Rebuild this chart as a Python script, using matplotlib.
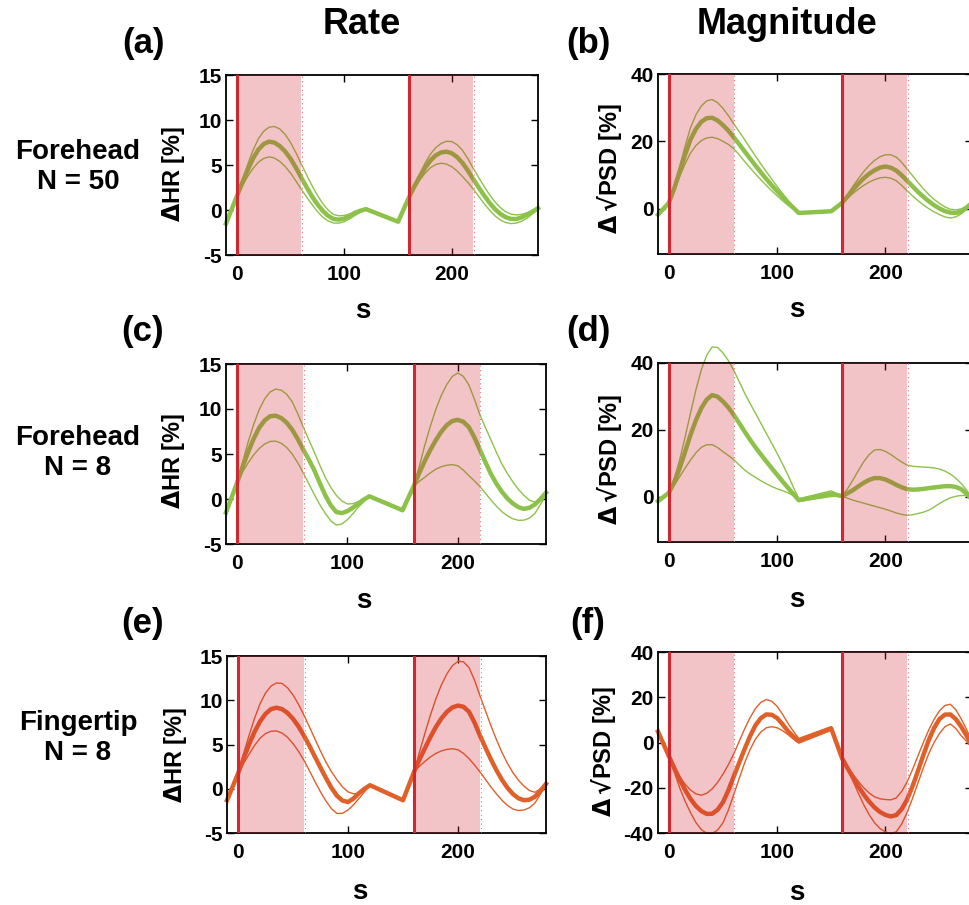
import matplotlib
matplotlib.use('Agg')
import matplotlib.pyplot as plt

plt.rcParams['font.family'] = ['Liberation Sans', 'DejaVu Sans']
plt.rcParams['font.weight'] = 'bold'
plt.rcParams['mathtext.fontset'] = 'dejavusans'
plt.rcParams['axes.unicode_minus'] = False

# time axis (s): block 1 from -10 to 120, block 2 from 150 to 280
t = [-10, -5, 0, 5, 10, 15, 20, 25, 30, 35, 40, 45, 50, 55, 60, 65, 70, 75, 80, 85,
     90, 95, 100, 105, 110, 115, 120,
     150, 155, 160, 165, 170, 175, 180, 185, 190, 195, 200, 205, 210, 215, 220, 225,
     230, 235, 240, 245, 250, 255, 260, 265, 270, 275, 280]

onsets = [0, 160]
stim_len = 60

# (a) forehead N=50, rate
a_mean = [-1.5, 0.0, 1.5, 3.0, 4.4, 5.7, 6.7, 7.33, 7.6, 7.49, 7.1, 6.5, 5.7, 4.69, 3.6,
          2.52, 1.5, 0.63, -0.1, -0.65, -1.0, -1.07, -0.95, -0.65, -0.3, -0.08, 0.1,
          -1.3, 0.05, 1.4, 2.6, 3.7, 4.69, 5.5, 6.07, 6.4, 6.48, 6.3, 5.86, 5.2, 4.34, 3.4,
          2.48, 1.6, 0.79, 0.1, -0.43, -0.8, -0.99, -1.0, -0.81, -0.5, -0.18, 0.2]
a_upper = [-1.5, 0.0, 1.5, 3.3, 5.0, 6.6, 7.9, 8.74, 9.2, 9.28, 9.0, 8.39, 7.5, 6.36, 5.1,
           3.88, 2.7, 1.63, 0.7, -0.02, -0.5, -0.65, -0.6, -0.45, -0.25, -0.08, 0.1,
           -1.3, 0.05, 1.4, 2.76, 4.0, 5.19, 6.2, 6.93, 7.4, 7.64, 7.6, 7.24, 6.6, 5.66, 4.6,
           3.58, 2.6, 1.69, 0.9, 0.27, -0.2, -0.46, -0.55, -0.48, -0.3, -0.05, 0.25]
a_lower = [-1.5, 0.0, 1.5, 2.65, 3.7, 4.6, 5.3, 5.73, 5.9, 5.77, 5.4, 4.83, 4.1, 3.23, 2.3,
           1.43, 0.6, -0.17, -0.8, -1.22, -1.45, -1.46, -1.3, -0.98, -0.6, -0.25, 0.1,
           -1.3, 0.05, 1.4, 2.38, 3.3, 4.09, 4.7, 5.06, 5.2, 5.1, 4.8, 4.31, 3.7, 3.03, 2.3,
           1.5, 0.7, -0.03, -0.65, -1.11, -1.4, -1.51, -1.45, -1.24, -0.9, -0.42, 0.1]

# (b) forehead N=50, magnitude
b_mean = [-1.8, -0.05, 1.7, 6.0, 11.0, 16.0, 20.5, 23.67, 25.8, 26.87, 27.0, 26.2, 24.8,
          23.13, 21.2, 19.14, 17.0, 14.89, 12.8, 10.76, 8.8, 6.96, 5.2, 3.47, 1.8, 0.25, -1.3,
          -0.8, 0.45, 1.7, 3.6, 5.6, 7.39, 9.0, 10.34, 11.4, 12.18, 12.5, 12.16, 11.3, 9.93,
          8.3, 6.64, 5.0, 3.53, 2.2, 1.0, 0.0, -0.76, -1.2, -1.29, -0.9, 0.3, 1.7]
b_upper = [-1.8, -0.05, 1.7, 6.6, 12.5, 18.52, 24.0, 27.85, 30.5, 32.02, 32.4, 31.51, 29.8,
           27.63, 25.2, 22.87, 20.5, 18.04, 15.6, 13.27, 11.0, 8.77, 6.6, 4.51, 2.5, 0.6, -1.3,
           -0.8, 0.45, 1.7, 4.1, 6.6, 8.9, 11.0, 12.82, 14.3, 15.4, 16.0, 15.98, 15.3, 13.76,
           11.8, 9.81, 7.8, 5.92, 4.2, 2.73, 1.5, 0.48, -0.2, -0.37, -0.1, 0.7, 1.7]
b_lower = [-1.8, -0.05, 1.7, 5.38, 9.5, 13.26, 16.5, 18.73, 20.2, 21.01, 21.2, 20.8, 20.0,
           19.06, 17.8, 15.99, 14.0, 12.13, 10.3, 8.56, 6.9, 5.31, 3.8, 2.35, 1.0, -0.15, -1.3,
           -0.8, 0.45, 1.7, 3.1, 4.5, 5.77, 6.9, 7.86, 8.6, 9.12, 9.3, 9.03, 8.3, 6.92,
           5.3, 3.81, 2.4, 1.13, 0.0, -0.99, -1.8, -2.49, -2.8, -2.47, -1.6, 0.0, 1.7]

# (c) forehead N=8, rate
c_mean = [-1.5, 0.15, 1.8, 3.55, 5.2, 6.68, 7.9, 8.73, 9.2, 9.26, 9.0, 8.48, 7.7, 6.66, 5.5,
          4.39, 3.2, 1.77, 0.4, -0.71, -1.45, -1.57, -1.35, -0.97, -0.5, -0.05, 0.3,
          -1.25, 0.08, 1.4, 2.85, 4.2, 5.42, 6.5, 7.46, 8.2, 8.66, 8.8, 8.59, 8.0, 6.87, 5.5,
          4.12, 2.8, 1.71, 0.8, 0.06, -0.5, -0.91, -1.1, -0.97, -0.6, 0.0, 0.7]
c_upper = [-1.5, 0.15, 1.8, 4.1, 6.3, 8.26, 9.9, 11.11, 11.9, 12.21, 12.1, 11.64, 10.8, 9.49,
           8.0, 6.6, 5.2, 3.75, 2.4, 1.28, 0.4, -0.22, -0.55, -0.52, -0.3, 0.0, 0.3,
           -1.25, 0.08, 1.4, 3.55, 5.9, 8.01, 9.9, 11.47, 12.7, 13.61, 14.0, 13.64, 12.7, 11.14,
           9.4, 7.96, 6.6, 5.2, 3.9, 2.83, 1.9, 1.07, 0.4, -0.14, -0.35, 0.05, 0.8]
c_lower = [-1.5, 0.15, 1.8, 3.0, 4.0, 4.89, 5.6, 6.11, 6.4, 6.43, 6.2, 5.72, 5.0, 4.03, 2.9,
           1.7, 0.5, -0.62, -1.6, -2.42, -2.9, -2.77, -2.3, -1.64, -0.9, -0.3, 0.3,
           -1.25, 0.08, 1.4, 1.95, 2.4, 2.88, 3.3, 3.58, 3.75, 3.82, 3.7, 3.22, 2.6, 2.03, 1.4,
           0.66, -0.1, -0.79, -1.4, -1.87, -2.2, -2.37, -2.35, -2.12, -1.6, -0.6, 0.5]

# (d) forehead N=8, magnitude
d_mean = [-1.3, -0.05, 1.2, 4.38, 8.5, 13.46, 18.5, 22.88, 26.5, 29.07, 30.4, 29.94, 28.5,
          26.69, 24.5, 22.04, 19.5, 17.1, 14.8, 12.66, 10.6, 8.58, 6.6, 4.63, 2.7, 0.85, -1.0,
          0.9, 0.55, 0.2, 1.05, 2.0, 3.13, 4.2, 5.06, 5.6, 5.59, 5.2, 4.46, 3.6, 2.86, 2.3,
          2.14, 2.2, 2.37, 2.6, 2.81, 3.0, 3.18, 3.2, 2.96, 2.3, 0.9, -0.8]
d_upper = [-1.3, -0.05, 1.2, 5.38, 11.0, 17.8, 25.0, 31.95, 38.0, 42.33, 44.8, 44.65, 43.0,
           40.71, 37.8, 34.45, 31.0, 27.95, 25.0, 22.0, 19.0, 16.03, 13.0, 9.82, 6.5, 2.9, -0.6,
           1.8, 1.0, 0.2, 2.4, 5.0, 7.83, 10.5, 12.62, 14.0, 14.15, 13.6, 12.65, 11.5, 10.4,
           9.5, 9.14, 9.0, 8.9, 8.8, 8.63, 8.3, 7.69, 6.8, 5.58, 4.0, 2.0, -0.3]
d_lower = [-1.3, -0.05, 1.2, 3.44, 6.0, 8.56, 11.0, 13.16, 14.8, 15.57, 15.6, 14.75, 13.5,
           12.36, 11.1, 9.54, 8.0, 6.83, 5.8, 4.81, 3.9, 3.11, 2.4, 1.87, 1.2, 0.4, -1.4,
           0.1, 0.15, 0.2, -0.4, -1.0, -1.45, -1.9, -2.35, -2.8, -3.25, -3.7, -4.25, -4.8,
           -5.25, -5.5, -5.36, -5.0, -4.59, -4.0, -3.04, -2.0, -1.07, -0.3, 0.17, 0.4, 0.35, 0.2]

# (e) fingertip N=8, rate
e_mean = [-1.3, 0.2, 1.7, 3.4, 5.0, 6.42, 7.6, 8.46, 9.0, 9.16, 9.0, 8.57, 7.9, 7.03, 6.0,
          4.83, 3.6, 2.38, 1.2, 0.09, -0.8, -1.34, -1.5, -1.1, -0.5, 0.0, 0.4,
          -1.3, 0.3, 1.9, 3.3, 4.6, 5.86, 7.0, 7.96, 8.7, 9.2, 9.4, 9.26, 8.7, 7.48, 6.0,
          4.63, 3.3, 2.08, 1.0, 0.1, -0.6, -1.08, -1.3, -1.23, -0.9, -0.25, 0.55]
e_upper = [-1.3, 0.2, 1.7, 3.95, 6.0, 7.94, 9.6, 10.81, 11.6, 11.96, 11.9, 11.41, 10.6, 9.54,
           8.3, 6.97, 5.6, 4.26, 3.0, 1.92, 1.0, 0.21, -0.35, -0.57, -0.5, -0.15, 0.4,
           -1.3, 0.3, 1.9, 4.15, 6.3, 8.35, 10.2, 11.76, 13.0, 13.92, 14.4, 14.34, 13.7, 12.27,
           10.5, 8.79, 7.1, 5.53, 4.1, 2.86, 1.8, 0.95, 0.3, -0.21, -0.4, 0.0, 0.6]
e_lower = [-1.3, 0.2, 1.7, 2.85, 3.9, 4.89, 5.7, 6.23, 6.5, 6.53, 6.3, 5.81, 5.1, 4.23, 3.2,
           2.02, 0.8, -0.36, -1.4, -2.26, -2.8, -2.77, -2.4, -1.82, -1.1, -0.35, 0.4,
           -1.3, 0.3, 1.9, 2.55, 3.1, 3.6, 4.0, 4.28, 4.45, 4.52, 4.4, 3.99, 3.4, 2.69, 1.9,
           1.05, 0.2, -0.59, -1.3, -1.89, -2.3, -2.46, -2.4, -2.14, -1.6, -0.6, 0.5]

# (f) fingertip N=8, magnitude
f_mean = [4.8, -0.6, -6.0, -11.29, -16.3, -20.91, -24.9, -28.06, -30.3, -31.56, -31.5, -29.74,
          -26.4, -21.14, -15.0, -8.89, -2.9, 2.81, 7.6, 10.76, 12.4, 12.26, 10.8, 8.07, 5.0,
          2.7, 0.7,
          6.2, -0.4, -7.0, -11.3, -15.4, -19.37, -23.0, -26.12, -28.7, -30.7, -32.0, -32.68,
          -32.1, -29.49, -25.3, -19.43, -12.7, -5.65, 1.0, 6.43, 10.4, 12.33, 12.4, 10.36,
          7.0, 3.0, -1.5]
f_upper = [4.8, -0.6, -6.0, -10.8, -15.0, -18.42, -21.0, -22.7, -23.3, -22.45, -20.5, -17.64,
           -14.0, -9.78, -5.0, 0.5, 6.0, 10.94, 15.0, 17.75, 19.0, 18.22, 16.0, 12.48, 8.5,
           5.0, 1.8,
           7.0, 0.0, -7.0, -10.6, -14.0, -17.19, -20.0, -22.3, -24.0, -24.89, -25.2, -25.36,
           -24.5, -21.68, -17.5, -12.03, -6.0, -0.06, 5.5, 10.29, 14.0, 16.38, 16.9, 14.51,
           10.5, 5.7, 0.5]
f_lower = [4.8, -0.6, -6.0, -12.99, -20.0, -25.91, -31.0, -35.33, -38.5, -40.11, -40.2, -38.74,
           -35.5, -29.83, -23.0, -15.88, -9.0, -3.19, 1.5, 4.66, 6.5, 7.0, 6.5, 5.24, 3.5,
           1.5, -0.3,
           5.4, -0.8, -7.0, -11.9, -17.0, -22.38, -27.5, -31.91, -35.5, -38.0, -39.5, -40.28,
           -39.5, -36.06, -31.0, -24.78, -18.0, -11.25, -5.0, 0.05, 4.0, 6.99, 8.2, 6.21,
           3.0, 0.5, -2.5]

GREEN = '#8cc24a'
ORANGE = '#e0602a'
RED = '#d22630'

hr_label = '$\\Delta$HR [%]'
psd_label = '$\\Delta\\,\u221a$PSD [%]'

W, H = 970, 905

def rect(l, t_, r, b):
    # pixel box -> figure fraction
    return [l / W, 1 - b / H, (r - l) / W, (b - t_) / H]

# tag, curves, colour, ylim, yticks, ylabel, axes box, tag pos, ylabel pos, xlabel pos
panels = [
    ('(a)', (a_mean, a_upper, a_lower), GREEN, (-5, 15), [-5, 0, 5, 10, 15], hr_label,
     (226, 75, 538, 255), (143, 44), (174, 174), (363, 311)),
    ('(b)', (b_mean, b_upper, b_lower), GREEN, (-13.5, 40), [0, 20, 40], psd_label,
     (658, 74, 972, 254), (588, 44), (610, 169), (797, 310)),
    ('(c)', (c_mean, c_upper, c_lower), GREEN, (-5, 15), [-5, 0, 5, 10, 15], hr_label,
     (226, 364, 546, 544), (143, 332), (174, 461), (364, 601)),
    ('(d)', (d_mean, d_upper, d_lower), GREEN, (-13.5, 40), [0, 20, 40], psd_label,
     (658, 363, 972, 542), (588, 332), (610, 460), (797, 600)),
    ('(e)', (e_mean, e_upper, e_lower), ORANGE, (-5, 15), [-5, 0, 5, 10, 15], hr_label,
     (227, 656, 546, 833), (143, 623), (176, 755), (360, 892)),
    ('(f)', (f_mean, f_upper, f_lower), ORANGE, (-40, 40), [-40, -20, 0, 20, 40], psd_label,
     (658, 652, 972, 833), (588, 623), (604, 752), (797, 893)),
]

fig = plt.figure(figsize=(9.7, 9.05), dpi=100)

for tag, (mean, upper, lower), col, ylim, yticks, ylab, box, tagpos, ylpos, xlpos in panels:
    ax = fig.add_axes(rect(*box))
    ax.plot(t, upper, color=col, lw=1.0, clip_on=False, zorder=2)
    ax.plot(t, lower, color=col, lw=1.0, clip_on=False, zorder=2)
    ax.plot(t, mean, color=col, lw=3.2, clip_on=False, zorder=2,
            solid_joinstyle='round')
    for on in onsets:
        ax.axvspan(on, on + stim_len, color=RED, alpha=0.27, lw=0, zorder=3)
        ax.axvline(on, color=RED, lw=2.2, zorder=4)
        ax.axvline(on + stim_len + 0.5, color='#e8707a', lw=0.8,
                   ls=(0, (1, 3)), zorder=4)
    ax.set_xlim(-10, 280)
    ax.set_ylim(*ylim)
    ax.set_xticks([0, 100, 200])
    ax.set_yticks(yticks)
    ax.tick_params(direction='in', top=True, right=True, length=5, width=1,
                   labelsize=15)
    ax.tick_params(axis='x', pad=7)
    ax.tick_params(axis='y', pad=3)
    for sp in ax.spines.values():
        sp.set_linewidth(1.3)
    fig.text(tagpos[0] / W, 1 - tagpos[1] / H, tag, fontsize=25,
             ha='center', va='center')
    fig.text(ylpos[0] / W, 1 - ylpos[1] / H, ylab, fontsize=17, rotation=90,
             ha='center', va='center')
    fig.text(xlpos[0] / W, 1 - xlpos[1] / H, 's', fontsize=20,
             ha='center', va='center')

fig.text(362 / W, 1 - 25 / H, 'Rate', fontsize=26, ha='center', va='center')
fig.text(787 / W, 1 - 25 / H, 'Magnitude', fontsize=26, ha='center', va='center')

fig.text(78 / W, 1 - 167 / H, 'Forehead\nN = 50', fontsize=20,
         ha='center', va='center', linespacing=1.2)
fig.text(78 / W, 1 - 453 / H, 'Forehead\nN = 8', fontsize=20,
         ha='center', va='center', linespacing=1.2)
fig.text(78 / W, 1 - 738 / H, 'Fingertip\nN = 8', fontsize=20,
         ha='center', va='center', linespacing=1.2)

fig.savefig('out.png', dpi=100)
